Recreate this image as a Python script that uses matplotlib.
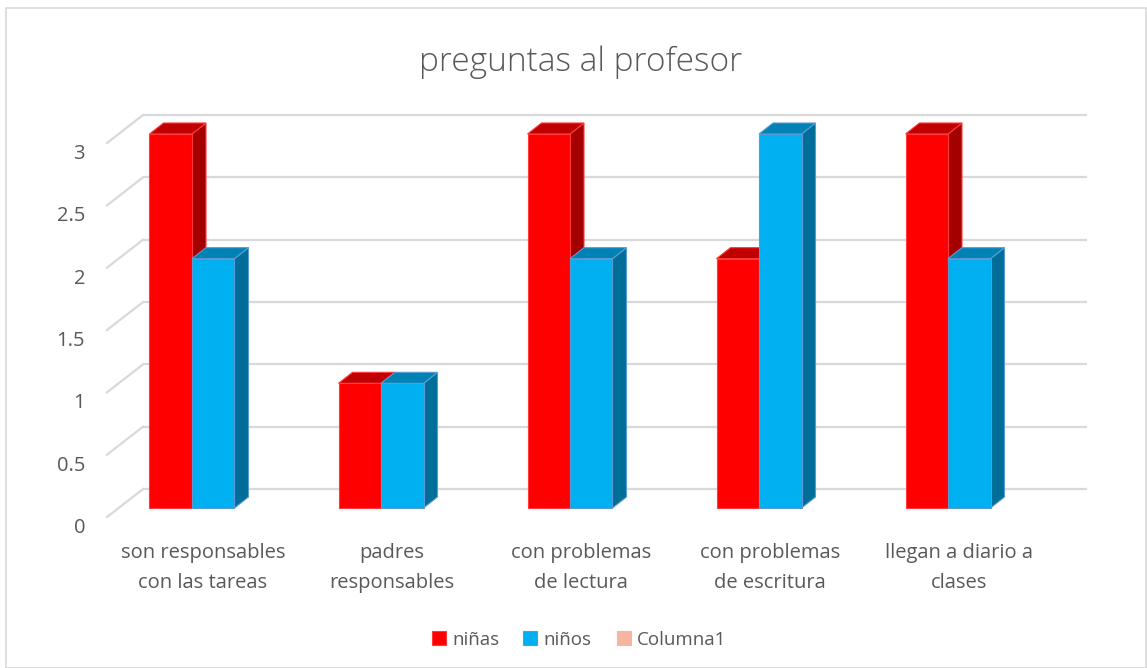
import matplotlib
matplotlib.use("Agg")
import matplotlib.pyplot as plt
from matplotlib.patches import Polygon, Rectangle
import numpy as np

categories = ["son responsables\ncon las tareas", "padres\nresponsables",
              "con problemas\nde lectura", "con problemas\nde escritura",
              "llegan a diario a\nclases"]
ninas = [3, 1, 3, 2, 3]
ninos = [2, 1, 2, 3, 2]
yticks = [0, 0.5, 1, 1.5, 2, 2.5, 3]
ytick_labels = ["0", "0.5", "1", "1.5", "2", "2.5", "3"]
series_names = ["niñas", "niños", "Columna1"]

W, H = 1147, 668
fig = plt.figure(figsize=(W / 100, H / 100), dpi=100)
ax = fig.add_axes([0, 0, 1, 1])
ax.axis("off")

# pixel mapping for bar front plane
px_per_cat = 189.0
px_per_unit = 124.67
x0_px = 192.0
y0_px = 508.0
ax.set_xlim(-x0_px / px_per_cat, (W - x0_px) / px_per_cat)
ax.set_ylim((y0_px - H) / px_per_unit, y0_px / px_per_unit)

def dx(p): return p / px_per_cat
def dy(p): return p / px_per_unit

font = "Open Sans"
txt_col = "#595959"
grid_col = "#D9D9D9"

# gridlines (back wall) with slanted left segments
back_dx, back_dy = dx(24.4), dy(19)
front_dx, front_dy = dx(-11.6), dy(-9)
left_bar_plane = -0.388
right_bar_plane = 4.605
for v, lab in zip(yticks, ytick_labels):
    ax.plot([left_bar_plane + back_dx, right_bar_plane + back_dx],
            [v + back_dy, v + back_dy], color=grid_col, lw=1.6, zorder=1,
            solid_capstyle="butt")
    ax.plot([left_bar_plane + front_dx, left_bar_plane + back_dx],
            [v + front_dy, v + back_dy], color=grid_col, lw=1.6, zorder=1)
    ax.text(left_bar_plane + front_dx - dx(22), v + front_dy - dy(11), lab,
            ha="right", va="center", fontsize=14.5, color=txt_col, family=font)

# bars
bw = dx(42.5)
ddx, ddy = dx(14), dy(11)
series = [
    (ninas, -1, "#FF0000", "#C00000", "#A50000", "#FF3B3B"),
    (ninos, 0, "#00B0F0", "#0082B4", "#006E99", "#5B9BD5"),
]
x = np.arange(len(categories))
z = 2
for i in range(len(categories)):
    for vals, off, cf, ct, cs, ce in series:
        xl = x[i] + off * bw
        xr = xl + bw
        h = vals[i]
        front = Polygon([(xl, 0), (xr, 0), (xr, h), (xl, h)], closed=True,
                        facecolor=cf, edgecolor=ce, lw=0.8, zorder=z)
        top = Polygon([(xl, h), (xr, h), (xr + ddx, h + ddy), (xl + ddx, h + ddy)],
                      closed=True, facecolor=ct, edgecolor=ce, lw=0.8, zorder=z)
        side = Polygon([(xr, 0), (xr + ddx, ddy), (xr + ddx, h + ddy), (xr, h)],
                       closed=True, facecolor=cs, edgecolor=ce, lw=0.8, zorder=z)
        for p in (side, top, front):
            ax.add_patch(p)
        z += 1

# category labels
for i, c in enumerate(categories):
    ax.text(x[i] + dx(11), dy(-60), c, ha="center", va="center", fontsize=14.5,
            color=txt_col, family=font, linespacing=1.62)

# title
fig.text(581 / W, 1 - 62 / H, "preguntas al profesor", ha="center", va="center",
         fontsize=24, color=txt_col, family=font, fontweight="light")

# legend
leg_colors = [("#FF0000", "#FF3B3B"), ("#00B0F0", "#5B9BD5"), ("#F4B6A0", "#F4B6A0")]
leg_x = [432, 523, 617]
for (fc, ec), lx, name in zip(leg_colors, leg_x, series_names):
    fig.patches.append(Rectangle((lx / W, 1 - 645 / H), 14 / W, 14 / H,
                                 transform=fig.transFigure, facecolor=fc,
                                 edgecolor=ec, lw=0.8))
    fig.text((lx + 20) / W, 1 - 640 / H, name, ha="left", va="center",
             fontsize=13.5, color=txt_col, family=font)

# chart border
fig.patches.append(Rectangle((6 / W, 0.5 / H), (W - 7) / W, (H - 8.5) / H,
                             transform=fig.transFigure, facecolor="none",
                             edgecolor="#D9D9D9", lw=1.2))

fig.savefig("out.png", dpi=100)
